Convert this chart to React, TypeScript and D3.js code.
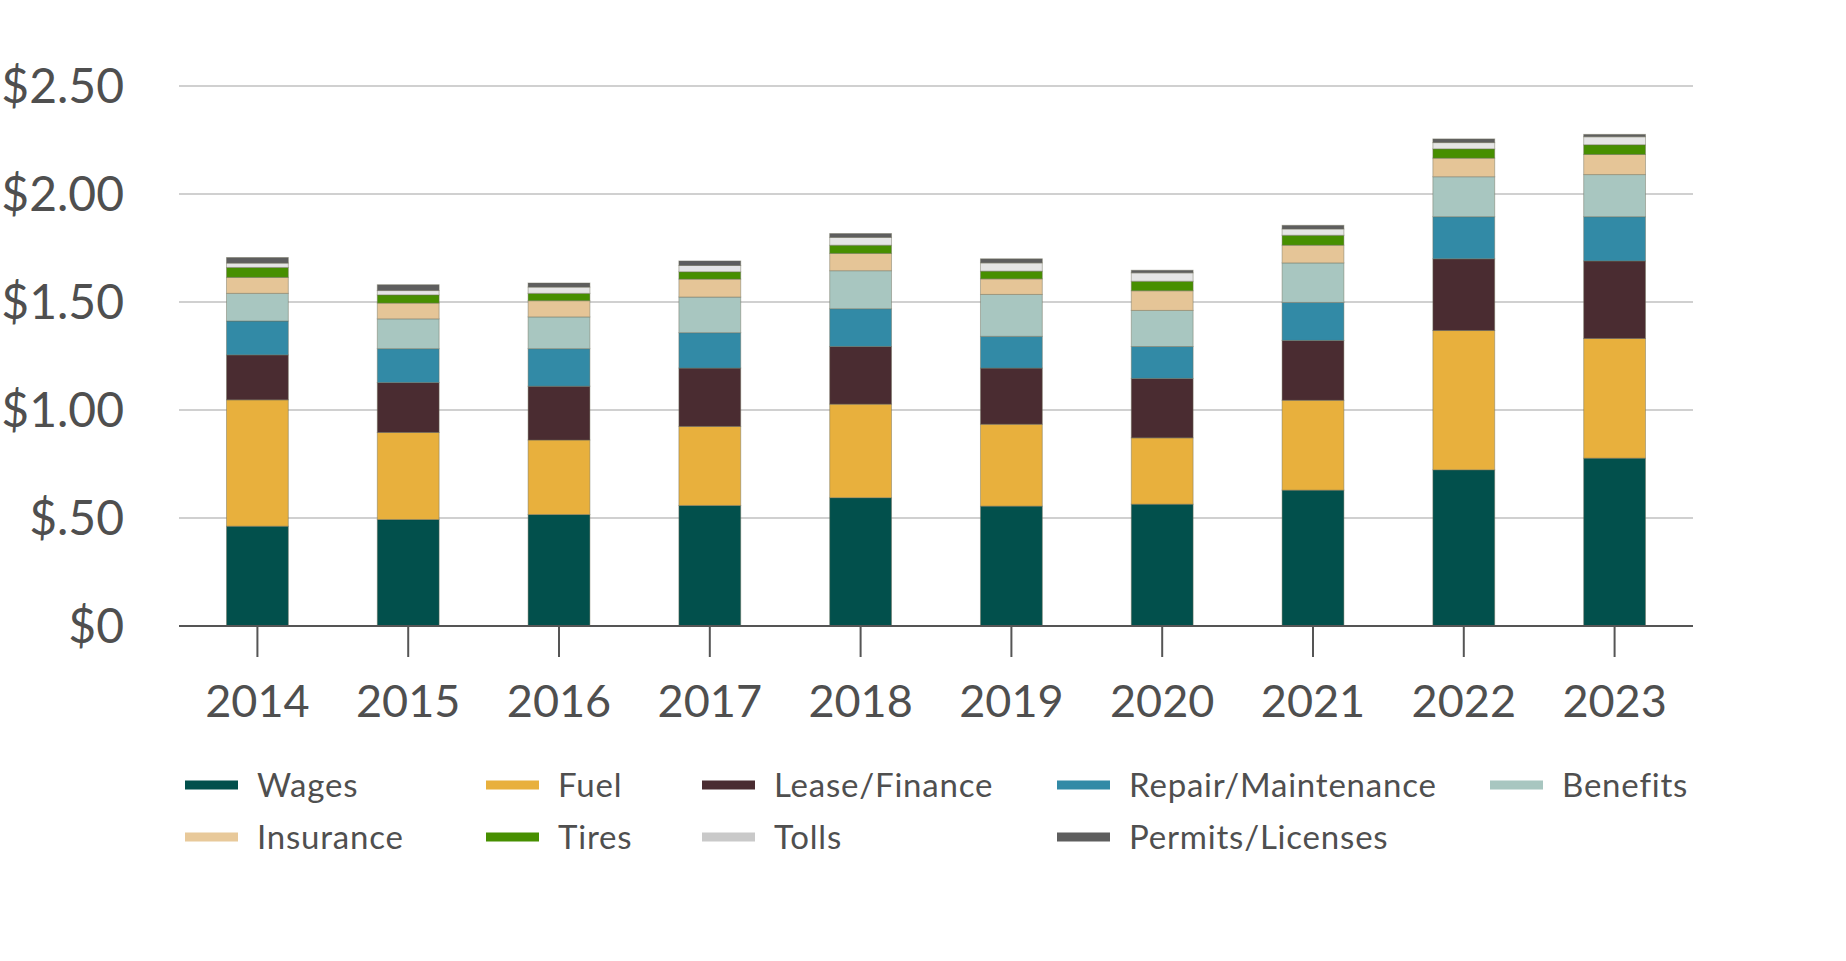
import React from "react";
import * as d3 from "d3";

const years = ["2014", "2015", "2016", "2017", "2018", "2019", "2020", "2021", "2022", "2023"];
const wages = [0.462, 0.493, 0.516, 0.558, 0.594, 0.555, 0.564, 0.629, 0.723, 0.777];
const fuel = [0.585, 0.403, 0.345, 0.366, 0.433, 0.379, 0.307, 0.416, 0.645, 0.554];
const leaseFinance = [0.208, 0.231, 0.249, 0.270, 0.267, 0.260, 0.275, 0.277, 0.332, 0.359];
const repairMaintenance = [0.157, 0.157, 0.174, 0.164, 0.175, 0.147, 0.148, 0.176, 0.195, 0.205];
const benefits = [0.128, 0.138, 0.147, 0.165, 0.176, 0.194, 0.167, 0.183, 0.185, 0.195];
const insurance = [0.074, 0.073, 0.075, 0.083, 0.080, 0.072, 0.091, 0.082, 0.086, 0.093];
const tires = [0.046, 0.038, 0.034, 0.034, 0.038, 0.036, 0.044, 0.046, 0.043, 0.045];
const tolls = [0.020, 0.020, 0.029, 0.029, 0.036, 0.038, 0.039, 0.029, 0.029, 0.037];
const permitsLicenses = [0.026, 0.027, 0.019, 0.021, 0.018, 0.019, 0.012, 0.017, 0.017, 0.011];

const seriesNames = [
  "Wages",
  "Fuel",
  "Lease/Finance",
  "Repair/Maintenance",
  "Benefits",
  "Insurance",
  "Tires",
  "Tolls",
  "Permits/Licenses",
];
const seriesValues = [wages, fuel, leaseFinance, repairMaintenance, benefits, insurance, tires, tolls, permitsLicenses];
const barColors = ["#02504c", "#e8b03d", "#4a2c31", "#328aa6", "#a8c6c0", "#e5c597", "#478f00", "#e5e5e5", "#5e5e5e"];
const legendColors = ["#02504c", "#e8b03d", "#4a2c31", "#328aa6", "#a8c6c0", "#e8c99a", "#478f00", "#c9c9c9", "#5e5e5e"];
const yTicks = [0, 0.5, 1, 1.5, 2, 2.5];
const yTickLabels = ["$0", "$.50", "$1.00", "$1.50", "$2.00", "$2.50"];

const W = 1846;
const H = 961;
const FONT = "Lato, 'Open Sans', sans-serif";
const TEXT = "#4f4f4f";

export default function App() {
  const rows = years.map((y, i) => {
    const r: Record<string, any> = { year: y };
    seriesNames.forEach((s, k) => (r[s] = seriesValues[k][i]));
    return r;
  });
  const stacked = d3.stack<any>().keys(seriesNames)(rows);

  const x = d3.scaleBand<string>().domain(years).range([179, 1693]).paddingInner(0.59).paddingOuter(0.315);
  const y = d3.scaleLinear().domain([0, 2.5]).range([626, 86]);

  const legendCols = [185, 486, 702, 1057, 1490];
  const legendRows = [785, 837];
  const legendPos = [
    [0, 0], [1, 0], [2, 0], [3, 0], [4, 0],
    [0, 1], [1, 1], [2, 1], [3, 1],
  ];

  return (
    <svg width={W} height={H} style={{ position: "absolute", left: 0, top: 0, background: "#fff" }}>
      <rect x={0} y={0} width={W} height={H} fill="#fff" />
      {yTicks.map((t, i) => (
        <g key={"g" + i}>
          {t !== 0 && (
            <line x1={179} x2={1693} y1={y(t)} y2={y(t)} stroke="#d0d0d0" strokeWidth={2} />
          )}
          <text
            x={124}
            y={y(t) + 17}
            textAnchor="end"
            fontFamily={FONT}
            fontSize={48}
            fill={TEXT}
          >
            {yTickLabels[i]}
          </text>
        </g>
      ))}
      {stacked.map((layer, k) =>
        layer.map((d, i) => (
          <rect
            key={k + "-" + i}
            x={x(years[i])}
            width={x.bandwidth()}
            y={y(d[1])}
            height={Math.max(0, y(d[0]) - y(d[1]))}
            fill={barColors[k]}
            stroke="#6f6f5a"
            strokeOpacity={0.45}
            strokeWidth={1}
          />
        ))
      )}
      <line x1={179} x2={1693} y1={y(0)} y2={y(0)} stroke="#555" strokeWidth={2} />
      {years.map((yr) => {
        const cx = (x(yr) as number) + x.bandwidth() / 2;
        return (
          <g key={"t" + yr}>
            <line x1={cx} x2={cx} y1={y(0)} y2={y(0) + 31} stroke="#555" strokeWidth={2} />
            <text x={cx} y={717} textAnchor="middle" fontFamily={FONT} fontSize={45} fill={TEXT}>
              {yr}
            </text>
          </g>
        );
      })}
      {seriesNames.map((s, k) => {
        const [c, r] = legendPos[k];
        const lx = legendCols[c];
        const ly = legendRows[r];
        return (
          <g key={"l" + s}>
            <rect x={lx} y={ly - 4.5} width={53} height={9} fill={legendColors[k]} />
            <text x={lx + 72} y={ly + 11.5} fontFamily={FONT} fontSize={33} letterSpacing={0.8} fill={TEXT}>
              {s}
            </text>
          </g>
        );
      })}
    </svg>
  );
}
